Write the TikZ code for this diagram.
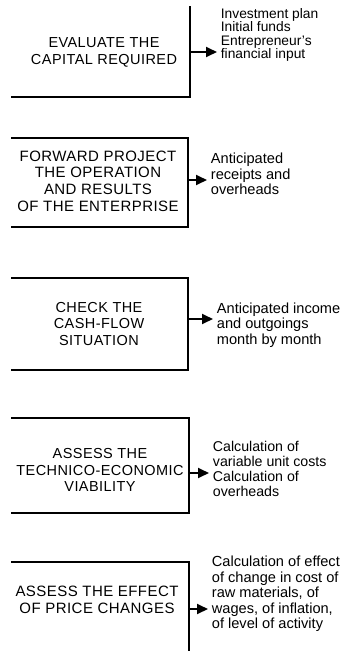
\documentclass[tikz,border=0pt]{standalone}
\usepackage{fontspec}
\setmainfont{Liberation Sans}
\newfontfamily\stagefont[LetterSpace=3]{Liberation Sans}
\usetikzlibrary{arrows.meta}
\tikzset{
  stage/.style={align=center,inner sep=0pt,font=\stagefont\fontsize{14.5}{16.8}\selectfont},
  note/.style={align=left,anchor=west,inner sep=0pt,font=\fontsize{14.6}{15.6}\selectfont},
  feed/.style={-{Triangle[length=11pt,width=10pt]},line width=1.8pt,shorten >=3pt}
}
\begin{document}
\begin{tikzpicture}[x=1pt,y=-1pt,line width=1.8pt]
\useasboundingbox (0,0) rectangle (358,651);
% evaluate the capital
\draw (11,97) -- (190,97) -- (190,6);
\node[stage] (capital) at (104,52) {EVALUATE THE\\CAPITAL REQUIRED};
\coordinate (capitalout) at (190,52);
\node[note,font=\fontsize{13.8}{13.6}\selectfont] (capitalnote) at (220,35) {Investment plan\\Initial funds\\Entrepreneur's\\financial input};
\draw[feed] (capitalout) -- (capitalout-|capitalnote.west);
% forward project
\draw (11,138) -- (188,138) -- (188,227) -- (11,227);
\node[stage,font=\stagefont\fontsize{15}{16.7}\selectfont] (project) at (98,181) {FORWARD PROJECT\\THE OPERATION\\AND RESULTS\\OF THE ENTERPRISE};
\coordinate (projectout) at (188,180);
\node[note] (projectnote) at (210,174) {Anticipated\\receipts and\\overheads};
\draw[feed] (projectout) -- (projectout-|projectnote.west);
% cash-flow
\draw (11,278) -- (188,278) -- (188,370) -- (11,370);
\node[stage] (cash) at (99,324) {CHECK THE\\CASH-FLOW\\SITUATION};
\coordinate (cashout) at (188,319);
\node[note] (cashnote) at (216,325) {Anticipated income\\and outgoings\\month by month};
\draw[feed] (cashout) -- (cashout-|cashnote.west);
% viability
\draw (11,418) -- (189,418) -- (189,513) -- (11,513);
\node[stage] (viable) at (100,470) {ASSESS THE\\TECHNICO-ECONOMIC\\VIABILITY};
\coordinate (viableout) at (189,473);
\node[note,font=\fontsize{14.2}{15.2}\selectfont] (viablenote) at (212,469) {Calculation of\\variable unit costs\\Calculation of\\overheads};
\draw[feed] (viableout) -- (viableout-|viablenote.west);
% price changes
\draw (11,562) -- (189,562) -- (189,651);
\node[stage,font=\stagefont\fontsize{15}{16.5}\selectfont] (price) at (97,600) {ASSESS THE EFFECT\\OF PRICE CHANGES};
\coordinate (priceout) at (189,609);
\node[note] (pricenote) at (211,594) {Calculation of effect\\of change in cost of\\raw materials, of\\wages, of inflation,\\of level of activity};
\draw[feed] (priceout) -- (priceout-|pricenote.west);
\end{tikzpicture}
\end{document}
